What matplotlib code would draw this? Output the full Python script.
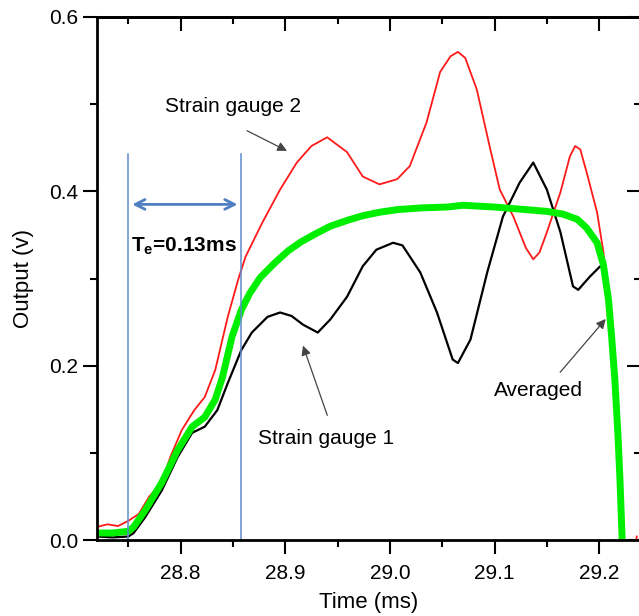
import matplotlib.pyplot as plt

plt.rcParams['font.family'] = ['Liberation Sans', 'DejaVu Sans']
plt.rcParams['mathtext.fontset'] = 'custom'
plt.rcParams['mathtext.bf'] = 'Liberation Sans:bold'
plt.rcParams['mathtext.rm'] = 'Liberation Sans'

# strain gauge 2 (red)
t_sg2 = [28.72, 28.73, 28.74, 28.75, 28.76, 28.77, 28.782, 28.79, 28.801, 28.813,
         28.823, 28.833, 28.845, 28.855, 28.862, 28.878, 28.895, 28.911, 28.925, 28.94,
         28.959, 28.974, 28.99, 29.007, 29.019, 29.035, 29.048, 29.058, 29.065, 29.072,
         29.083, 29.096, 29.105, 29.118, 29.13, 29.137, 29.143, 29.15, 29.163, 29.172,
         29.177, 29.182, 29.188, 29.198, 29.204, 29.208, 29.212, 29.216, 29.22, 29.222,
         29.229, 29.236]
v_sg2 = [0.015, 0.018, 0.016, 0.022, 0.03, 0.05, 0.066, 0.095, 0.126, 0.149,
         0.164, 0.195, 0.256, 0.299, 0.325, 0.364, 0.402, 0.433, 0.452, 0.462,
         0.445, 0.417, 0.408, 0.414, 0.429, 0.479, 0.537, 0.555, 0.56, 0.553,
         0.517, 0.448, 0.402, 0.371, 0.335, 0.322, 0.33, 0.353, 0.399, 0.44,
         0.452, 0.448, 0.422, 0.376, 0.331, 0.28, 0.22, 0.15, 0.07, 0.0,
         -0.05, 0.004]

# strain gauge 1 (black)
t_sg1 = [28.72, 28.735, 28.75, 28.755, 28.766, 28.782, 28.797, 28.811, 28.823, 28.835,
         28.845, 28.858, 28.868, 28.883, 28.895, 28.906, 28.917, 28.931, 28.943, 28.959,
         28.974, 28.987, 29.003, 29.012, 29.029, 29.045, 29.06, 29.065, 29.077, 29.093,
         29.108, 29.124, 29.137, 29.15, 29.163, 29.175, 29.18, 29.191, 29.201, 29.205]
v_sg1 = [0.004, 0.003, 0.004, 0.008, 0.026, 0.057, 0.095, 0.123, 0.130, 0.149,
         0.180, 0.218, 0.238, 0.256, 0.261, 0.257, 0.247, 0.238, 0.253, 0.279,
         0.314, 0.333, 0.341, 0.338, 0.307, 0.261, 0.207, 0.203, 0.230, 0.307,
         0.371, 0.410, 0.433, 0.402, 0.353, 0.291, 0.287, 0.302, 0.314, 0.31]

# averaged (green)
t_avg = [28.72, 28.735, 28.75, 28.755, 28.766, 28.782, 28.797, 28.811, 28.823, 28.833,
         28.84, 28.849, 28.858, 28.866, 28.876, 28.89, 28.903, 28.915, 28.93, 28.943,
         28.96, 28.974, 28.99, 29.007, 29.03, 29.055, 29.07, 29.1, 29.13, 29.15,
         29.165, 29.179, 29.188, 29.198, 29.204, 29.209, 29.212, 29.215, 29.218, 29.22,
         29.222]
v_avg = [0.008, 0.008, 0.01, 0.015, 0.034, 0.066, 0.103, 0.13, 0.141, 0.161,
         0.187, 0.233, 0.264, 0.283, 0.301, 0.318, 0.332, 0.342, 0.352, 0.36,
         0.367, 0.372, 0.376, 0.379, 0.381, 0.382, 0.384, 0.382, 0.379, 0.377,
         0.374, 0.368, 0.358, 0.341, 0.316, 0.275, 0.232, 0.184, 0.12, 0.066,
         0.0]

te_start, te_end = 28.75, 28.858
te_label = r'T$_\mathbf{e}$=0.13ms'

fig = plt.figure(figsize=(6.39, 6.16), dpi=100)
ax = fig.add_axes([97/639, 76/616, 544/639, 523/616])

ax.plot(t_sg2, v_sg2, color='#ff1a1a', lw=1.3)
ax.plot(t_sg1, v_sg1, color='black', lw=1.6)
ax.plot(t_avg, v_avg, color='#00ee00', lw=5, solid_capstyle='butt')

blue = '#5b8ccc'
for xv in [te_start, te_end]:
    ax.plot([xv, xv], [0, 0.4425], color=blue, lw=1.1)
ax.annotate('', xy=(te_end - 0.001, 0.385), xytext=(te_start + 0.001, 0.385),
            arrowprops=dict(arrowstyle='<->,head_length=0.7,head_width=0.35',
                            color='#4f7fc0', lw=2))
ax.text(28.803, 0.337, te_label, fontsize=15, fontweight='bold',
        ha='center', va='center')

arrow = dict(arrowstyle='-|>', color='#444444', lw=0.9, mutation_scale=14)
ax.text(28.85, 0.497, 'Strain gauge 2', fontsize=15, ha='center', va='center')
ax.annotate('', xy=(28.904, 0.445), xytext=(28.861, 0.471), arrowprops=arrow)
ax.text(28.939, 0.117, 'Strain gauge 1', fontsize=15, ha='center', va='center')
ax.annotate('', xy=(28.916, 0.226), xytext=(28.941, 0.140), arrowprops=arrow)
ax.text(29.142, 0.172, 'Averaged', fontsize=15, ha='center', va='center')
ax.annotate('', xy=(29.208, 0.256), xytext=(29.161, 0.190), arrowprops=arrow)

ax.set_xlim(28.72, 29.24)
ax.set_ylim(0, 0.6)
ax.set_xticks([28.8, 28.9, 29.0, 29.1, 29.2])
ax.set_xticks([28.75, 28.85, 28.95, 29.05, 29.15], minor=True)
ax.set_yticks([0.0, 0.2, 0.4, 0.6])
ax.set_yticks([0.1, 0.3, 0.5], minor=True)
ax.set_xticklabels(['28.8', '28.9', '29.0', '29.1', '29.2'])
ax.set_yticklabels(['0.0', '0.2', '0.4', '0.6'])

ax.tick_params(axis='both', which='major', labelsize=15, width=1.5, length=10)
ax.tick_params(axis='both', which='minor', width=1.5, length=5)
ax.tick_params(axis='x', which='both', direction='out', top=False)
ax.tick_params(axis='y', which='both', direction='out', right=False)
ax.tick_params(axis='x', which='major', pad=7)

# inward ticks on top and right
sec_x = ax.secondary_xaxis('top')
sec_x.set_xticks([28.8, 28.9, 29.0, 29.1, 29.2])
sec_x.set_xticks([28.75, 28.85, 28.95, 29.05, 29.15], minor=True)
sec_x.tick_params(which='both', direction='in', labeltop=False, width=1.5)
sec_x.tick_params(which='major', length=10)
sec_x.tick_params(which='minor', length=5)
sec_y = ax.secondary_yaxis('right')
sec_y.set_yticks([0.0, 0.2, 0.4, 0.6])
sec_y.set_yticks([0.1, 0.3, 0.5], minor=True)
sec_y.tick_params(which='both', direction='in', labelright=False, width=1.5)
sec_y.tick_params(which='major', length=10)
sec_y.tick_params(which='minor', length=5)

for s in ax.spines.values():
    s.set_linewidth(2)
sec_x.spines['top'].set_linewidth(2)
sec_y.spines['right'].set_linewidth(2)

ax.set_xlabel('Time (ms)', fontsize=16, labelpad=7)
ax.set_ylabel('Output (v)', fontsize=16, labelpad=11)

fig.savefig('out.png', dpi=100)
